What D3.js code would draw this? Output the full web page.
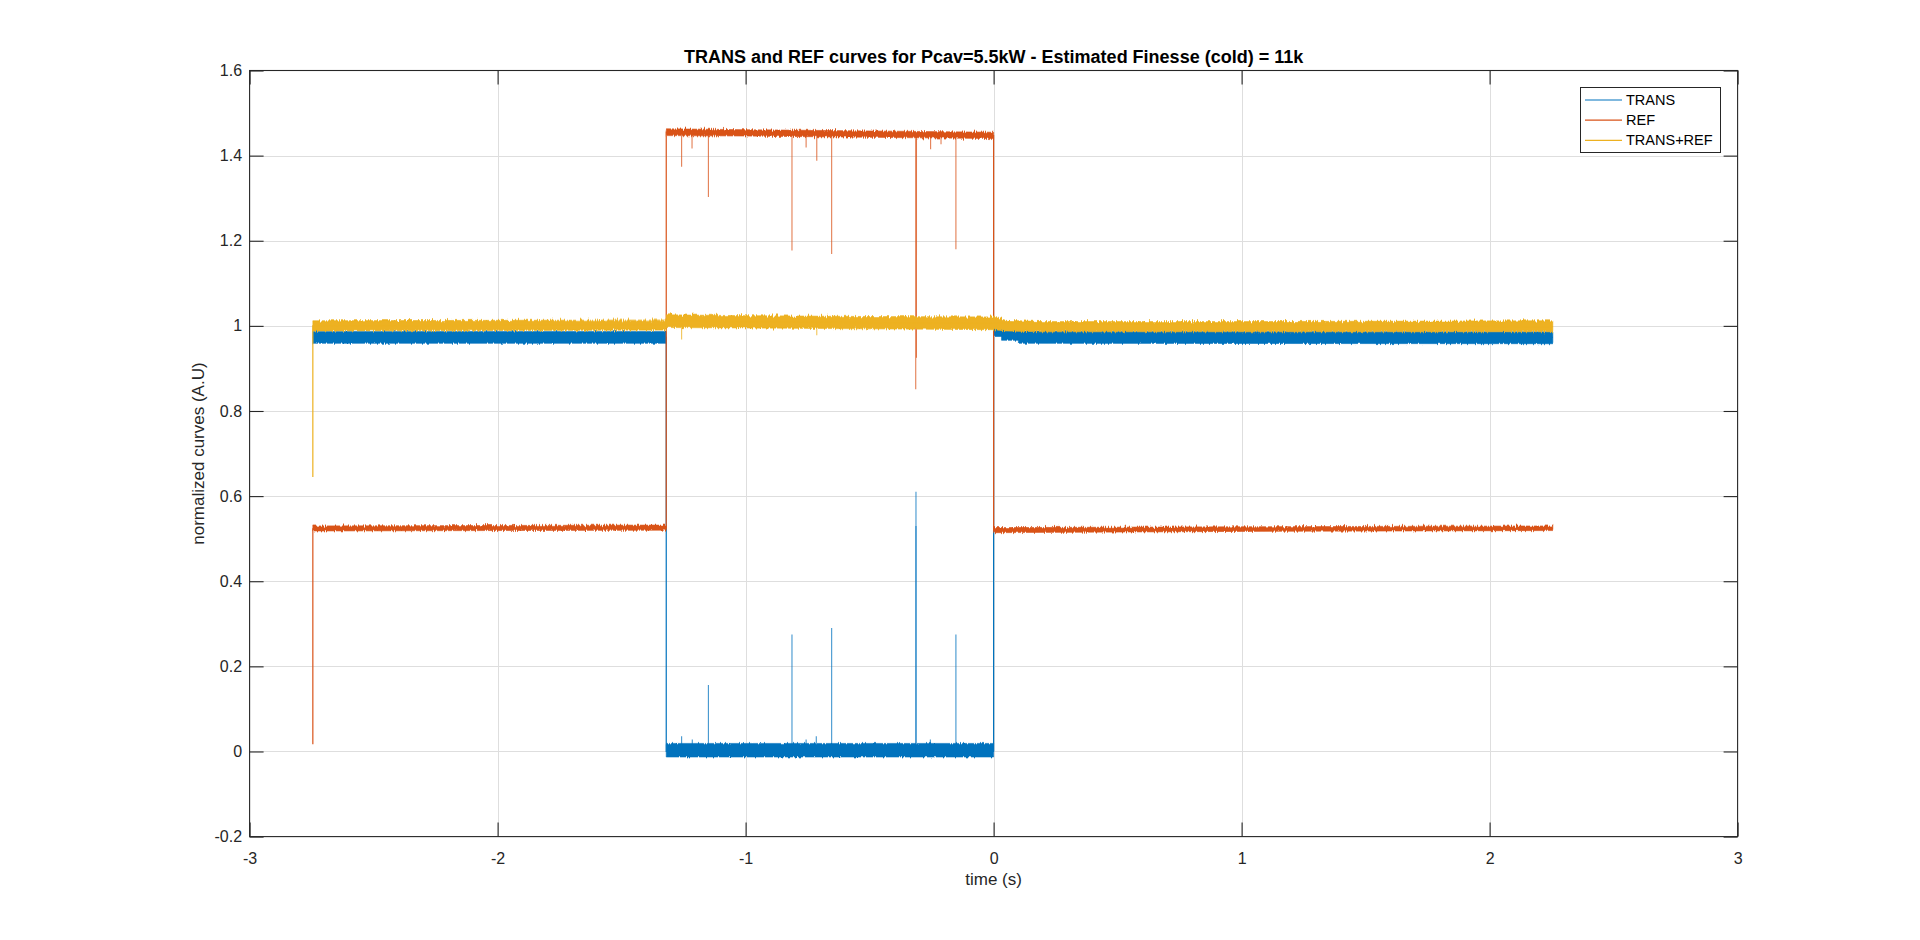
<!DOCTYPE html>
<html>
<head>
<meta charset="utf-8">
<script src="https://cdn.jsdelivr.net/npm/d3@7"></script>
<style>
  body { margin: 0; background: #fff; }
  svg { display: block; font-family: "Liberation Sans", Arial, sans-serif; }
</style>
</head>
<body>
<svg width="1920" height="940"></svg>
<script>

// tick values
const xTicks = [-3, -2, -1, 0, 1, 2, 3]
const yTicks = [-0.2, 0, 0.2, 0.4, 0.6, 0.8, 1, 1.2, 1.4, 1.6]

// noise envelopes: time (s), lower edge, upper edge
// (a repeated time means a jump)
const transBandT  = [-2.745, -1.32, -1.32, 0, 0, 0.032, 0.032, 0.10, 0.10, 2.255]
const transBandLo = [0.959, 0.959, -0.013, -0.013, 0.975, 0.975, 0.966, 0.966, 0.959, 0.958]
const transBandHi = [0.987, 0.987, 0.019, 0.019, 0.999, 0.999, 0.991, 0.991, 0.987, 0.986]

const refBandT  = [-2.745, -1.32, -1.32, -1.0, -0.5, 0, 0, 1.0, 2.255]
const refBandLo = [0.518, 0.520, 1.447, 1.446, 1.443, 1.440, 0.514, 0.517, 0.519]
const refBandHi = [0.530, 0.532, 1.463, 1.461, 1.458, 1.455, 0.526, 0.528, 0.530]

const sumBandT  = [-2.745, -1.32, -1.32, -1.0, -0.5, 0, 0.05, 0.2, 1.0, 2.255]
const sumBandLo = [0.988, 0.990, 0.996, 0.995, 0.993, 0.991, 0.988, 0.986, 0.986, 0.986]
const sumBandHi = [1.012, 1.014, 1.026, 1.024, 1.022, 1.021, 1.013, 1.010, 1.010, 1.012]

// the traces themselves (start transient and the two switches)
const transTraceT = [-2.745, -1.32, -1.32, 0, 0, 2.255]
const transTraceV = [0.973, 0.973, 0.0, 0.0, 0.987, 0.973]
const refTraceT = [-2.745, -2.745, -1.32, -1.32, 0, 0, 2.255]
const refTraceV = [0.017, 0.523, 0.525, 1.455, 1.447, 0.520, 0.524]
const sumTraceT = [-2.745, -2.745, -1.32, -1.32, 0, 2.255]
const sumTraceV = [0.645, 1.000, 1.002, 1.011, 1.006, 0.998]

// glitches while unlocked
const transSpikeT = [-1.258, -1.215, -1.150, -0.813, -0.756, -0.715, -0.653, -0.313, -0.313, -0.255, -0.152]
const transSpikeV = [0.036, 0.028, 0.156, 0.275, 0.028, 0.036, 0.290, 0.610, 0.530, 0.028, 0.275]
const transSpikeBase = 0.002

const refDipT = [-1.258, -1.216, -1.150, -0.813, -0.756, -0.713, -0.653, -0.314, -0.311, -0.254, -0.212, -0.152]
const refDipV = [1.374, 1.417, 1.303, 1.177, 1.419, 1.388, 1.169, 0.851, 0.925, 1.415, 1.427, 1.180]
const refDipBase = 1.45

const sumDipT = [-1.258, -0.713]
const sumDipV = [0.968, 0.978]
const sumDipBase = 1.005

const series = ["TRANS", "REF", "TRANS+REF"]
const colors = ["#0072BD", "#D95319", "#EDB120"]

// The svg
const svg = d3.select("svg"),
    width = +svg.attr("width"),
    height = +svg.attr("height");

// axes box, same spot as a default matlab figure
const box = {left: 249.6, right: 1737.6, top: 70.5, bottom: 836.6}

const x = d3.scaleLinear().domain([-3, 3]).range([box.left, box.right])
const y = d3.scaleLinear().domain([-0.2, 1.6]).range([box.bottom, box.top])

const label = d => String(+d.toFixed(1)).replace("\u2212", "-")

// jagged edge for the noisy bands (texture only, the envelope stays the data)
const defs = svg.append("defs")
function jagFilter(id, scale) {
  const f = defs.append("filter")
    .attr("id", id)
    .attr("filterUnits", "userSpaceOnUse")
    .attr("x", box.left).attr("y", box.top)
    .attr("width", box.right - box.left).attr("height", box.bottom - box.top)
  f.append("feTurbulence")
    .attr("type", "fractalNoise")
    .attr("baseFrequency", "0.9 0.03")
    .attr("numOctaves", 2)
    .attr("seed", 3)
    .attr("result", "noise")
  // keep the shift vertical only
  f.append("feColorMatrix")
    .attr("in", "noise")
    .attr("type", "matrix")
    .attr("values", "0 0 0 0 0.5  0 1 0 0 0  0 0 1 0 0  0 0 0 0 1")
    .attr("result", "shift")
  f.append("feDisplacementMap")
    .attr("in", "SourceGraphic")
    .attr("in2", "shift")
    .attr("scale", scale)
    .attr("xChannelSelector", "R")
    .attr("yChannelSelector", "G")
}
jagFilter("jag", 6)
jagFilter("jagSoft", 3)

// grid
const grid = svg.append("g")
  .attr("stroke", "#dedede")
  .attr("shape-rendering", "crispEdges")
grid.selectAll(".gx")
  .data(xTicks.slice(1, -1))
  .join("line")
    .attr("class", "gx")
    .attr("x1", d => Math.round(x(d)) + 0.5)
    .attr("x2", d => Math.round(x(d)) + 0.5)
    .attr("y1", box.top)
    .attr("y2", box.bottom)
grid.selectAll(".gy")
  .data(yTicks.slice(1, -1))
  .join("line")
    .attr("class", "gy")
    .attr("x1", box.left)
    .attr("x2", box.right)
    .attr("y1", d => Math.round(y(d)) + 0.5)
    .attr("y2", d => Math.round(y(d)) + 0.5)

defs.append("clipPath").attr("id", "clip")
  .append("rect")
    .attr("x", box.left).attr("y", box.top)
    .attr("width", box.right - box.left).attr("height", box.bottom - box.top)

const plot = svg.append("g").attr("clip-path", "url(#clip)")

const area = d3.area()
    .defined(d => d !== null)
    .x(d => x(d[0]))
    .y0(d => y(d[1]))
    .y1(d => y(d[2]))
const line = d3.line()
    .x(d => x(d[0]))
    .y(d => y(d[1]))

// break the band wherever the time repeats, so jumps stay thin lines
function bandPoints(T, lo, hi) {
  const pts = []
  T.forEach((t, i) => {
    if (i > 0 && t === T[i - 1]) pts.push(null)
    pts.push([t, lo[i], hi[i]])
  })
  return pts
}

function drawSeries(color, filter, bandT, bandLo, bandHi, traceT, traceV, spikeT, spikeV, base) {
  const g = plot.append("g")

  g.append("path")
    .datum(bandPoints(bandT, bandLo, bandHi))
    .attr("d", area)
    .attr("fill", color)
    .attr("stroke", color)
    .attr("stroke-width", 0.6)
    .attr("filter", `url(#${filter})`)

  g.append("path")
    .datum(d3.zip(traceT, traceV))
    .attr("d", line)
    .attr("fill", "none")
    .attr("stroke", color)
    .attr("stroke-width", 1.2)

  g.selectAll(".spike")
    .data(d3.zip(spikeT, spikeV))
    .join("line")
      .attr("class", "spike")
      .attr("x1", d => x(d[0]))
      .attr("x2", d => x(d[0]))
      .attr("y1", y(base))
      .attr("y2", d => y(d[1]))
      .attr("stroke", color)
      .attr("stroke-width", 1.1)
      .attr("stroke-opacity", 0.75)
}

drawSeries(colors[0], "jagSoft", transBandT, transBandLo, transBandHi, transTraceT, transTraceV, transSpikeT, transSpikeV, transSpikeBase)
drawSeries(colors[1], "jag", refBandT, refBandLo, refBandHi, refTraceT, refTraceV, refDipT, refDipV, refDipBase)
drawSeries(colors[2], "jag", sumBandT, sumBandLo, sumBandHi, sumTraceT, sumTraceV, sumDipT, sumDipV, sumDipBase)

// axes, ticks pointing inward like matlab
const axisColor = "#262626"
svg.append("g")
  .attr("transform", `translate(0,${box.bottom})`)
  .call(d3.axisBottom(x).tickValues(xTicks).tickSize(-14).tickPadding(16).tickFormat(label))
svg.append("g")
  .attr("transform", `translate(0,${box.top})`)
  .call(d3.axisTop(x).tickValues(xTicks).tickSize(-14).tickFormat(""))
svg.append("g")
  .attr("transform", `translate(${box.left},0)`)
  .call(d3.axisLeft(y).tickValues(yTicks).tickSize(-14).tickPadding(7.5).tickFormat(label))
svg.append("g")
  .attr("transform", `translate(${box.right},0)`)
  .call(d3.axisRight(y).tickValues(yTicks).tickSize(-14).tickFormat(""))

svg.selectAll(".domain").remove()
svg.selectAll(".tick line")
  .attr("stroke", axisColor)
  .attr("stroke-width", 1.1)
svg.selectAll(".tick text")
  .attr("fill", axisColor)
  .style("font-size", "16px")
  .style("font-family", "'Liberation Sans', Arial, sans-serif")

// box
svg.append("rect")
  .attr("x", box.left).attr("y", box.top)
  .attr("width", box.right - box.left).attr("height", box.bottom - box.top)
  .attr("fill", "none")
  .attr("stroke", axisColor)
  .attr("stroke-width", 1.1)

// title and labels
svg.append("text")
  .attr("x", (box.left + box.right) / 2)
  .attr("y", 63)
  .attr("text-anchor", "middle")
  .style("font-size", "18px")
  .style("font-weight", "bold")
  .attr("fill", "#000")
  .text("TRANS and REF curves for Pcav=5.5kW - Estimated Finesse (cold) = 11k")

svg.append("text")
  .attr("x", (box.left + box.right) / 2)
  .attr("y", 885)
  .attr("text-anchor", "middle")
  .style("font-size", "17px")
  .attr("fill", axisColor)
  .text("time (s)")

svg.append("text")
  .attr("transform", `translate(204,${(box.top + box.bottom) / 2}) rotate(-90)`)
  .attr("text-anchor", "middle")
  .style("font-size", "17px")
  .attr("fill", axisColor)
  .text("normalized curves (A.U)")

// legend
const legend = svg.append("g").attr("transform", "translate(1580.5,87.5)")
legend.append("rect")
  .attr("width", 140).attr("height", 65)
  .attr("fill", "#fff")
  .attr("stroke", axisColor)
  .attr("stroke-width", 1)
const item = legend.selectAll(".item")
  .data(series)
  .join("g")
    .attr("class", "item")
    .attr("transform", (d, i) => `translate(0,${12.5 + i * 20.2})`)
item.append("line")
  .attr("x1", 4.5).attr("x2", 41.5)
  .attr("stroke", (d, i) => colors[i])
  .attr("stroke-width", 1.2)
item.append("text")
  .attr("x", 45.5)
  .attr("dy", "0.35em")
  .style("font-size", "14.5px")
  .attr("fill", "#000")
  .text(d => d)

</script>
</body>
</html>
